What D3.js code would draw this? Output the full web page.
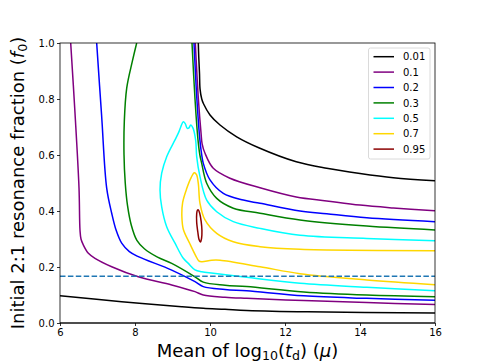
<!DOCTYPE html>
<html lang="en">
<head>
<meta charset="utf-8">
<title>Resonance fraction contours</title>
<script src="https://cdn.jsdelivr.net/npm/d3@7"></script>
<style>
  body { margin: 0; background: #fff; }
  text { font-family: "DejaVu Sans", sans-serif; }
</style>
</head>
<body>
<script>
// contour levels and their colours
var levels = ["0.01", "0.1", "0.2", "0.3", "0.5", "0.7", "0.95"];
var colors = ["black", "purple", "blue", "green", "cyan", "gold", "darkred"];

var xTicks = [6, 8, 10, 12, 14, 16];
var yTicks = [0, 0.2, 0.4, 0.6, 0.8, 1.0];
var resonanceLine = 1 / 6;

// traced contour paths, [mean log10(td), f0]
var c001Upper = [[9.688,1.0],[9.70,0.95],[9.72,0.892],[9.735,0.835],[9.78,0.80],[9.83,0.782],[10.0,0.743],[10.267,0.707],[10.712,0.665],[11.3,0.626],[12.3,0.576],[13.112,0.5525],[14.0,0.534],[14.888,0.519],[16,0.508]];
var c001Lower = [[6,0.0975],[7.645,0.076],[9.245,0.058],[9.821,0.0525],[10.4,0.049],[10.979,0.045],[12.6,0.040],[16,0.036]];

var c01Upper = [[9.608,1.0],[9.69,0.8],[9.76,0.68],[9.79,0.64],[9.867,0.606],[10.088,0.5525],[10.533,0.517],[11.333,0.483],[12.3,0.45],[13.112,0.436],[14.0,0.421],[14.888,0.411],[16,0.401]];
var c01Left = [[6.285,1.0],[6.40,0.75],[6.507,0.482],[6.533,0.332],[6.56,0.30],[6.621,0.279],[6.75,0.25],[6.933,0.231],[7.379,0.201],[8.088,0.165],[8.979,0.136],[9.6,0.112],[9.821,0.100],[10.4,0.092],[10.979,0.088],[12.5,0.080],[14.18,0.073],[16,0.066]];

var c02Upper = [[9.573,1.0],[9.65,0.80],[9.73,0.654],[9.78,0.60],[9.821,0.570],[10.0,0.511],[10.355,0.463],[10.888,0.439],[11.333,0.4275],[12.4,0.400],[13.112,0.39],[14.18,0.376],[16,0.362]];
var c02Left = [[6.978,1.0],[7.11,0.74],[7.245,0.482],[7.379,0.392],[7.50,0.33],[7.645,0.285],[7.85,0.255],[8.088,0.237],[8.979,0.189],[9.6,0.1475],[9.821,0.130],[10.4,0.120],[10.979,0.115],[12.5,0.097],[14.18,0.088],[16,0.081]];

var c03Upper = [[9.52,1.0],[9.60,0.80],[9.68,0.654],[9.73,0.60],[9.779,0.570],[9.912,0.499],[10.179,0.445],[10.621,0.410],[11.333,0.392],[12.4,0.368],[14.18,0.346],[16,0.332]];
var c03Left = [[8.045,1.0],[7.93,0.935],[7.779,0.839],[7.715,0.72],[7.707,0.601],[7.74,0.50],[7.80,0.42],[7.90,0.35],[8.05,0.295],[8.25,0.265],[8.6,0.235],[8.979,0.213],[9.6,0.165],[9.82,0.146],[10.4,0.135],[10.98,0.13],[12.5,0.111],[14.18,0.100],[16,0.094]];

var c05 = [[16,0.294],[14.18,0.302],[12.4,0.313],[11.333,0.338],[10.621,0.362],[10.179,0.3975],[9.912,0.439],[9.733,0.5225],[9.645,0.594],[9.62,0.65],[9.55,0.695],[9.485,0.707],[9.44,0.697],[9.395,0.695],[9.34,0.712],[9.288,0.719],[9.22,0.70],[9.155,0.678],[9.067,0.654],[8.845,0.594],[8.712,0.535],[8.667,0.475],[8.712,0.415],[8.845,0.344],[9.067,0.285],[9.288,0.231],[9.421,0.213],[9.6,0.19],[9.779,0.183],[10.088,0.1775],[10.979,0.163],[12.4,0.142],[14.18,0.1275],[16,0.115]];

var c07 = [[16,0.258],[12.4,0.263],[11.333,0.2725],[10.621,0.290],[10.179,0.320],[9.867,0.368],[9.733,0.4275],[9.688,0.499],[9.64,0.53],[9.581,0.537],[9.50,0.52],[9.379,0.48],[9.27,0.43],[9.25,0.38],[9.288,0.335],[9.467,0.282],[9.62,0.24],[9.70,0.222],[9.779,0.219],[10.045,0.224],[10.267,0.224],[11.333,0.201],[12.4,0.176],[14.18,0.154],[16,0.137]];

var c095 = [[9.688,0.404],[9.725,0.392],[9.765,0.362],[9.785,0.33],[9.775,0.302],[9.745,0.289],[9.71,0.297],[9.675,0.325],[9.645,0.36],[9.645,0.39],[9.665,0.403]];

var contours = [
  { level: 0, pts: c001Upper }, { level: 0, pts: c001Lower },
  { level: 1, pts: c01Upper }, { level: 1, pts: c01Left },
  { level: 2, pts: c02Upper }, { level: 2, pts: c02Left },
  { level: 3, pts: c03Upper }, { level: 3, pts: c03Left },
  { level: 4, pts: c05 },
  { level: 5, pts: c07 },
  { level: 6, pts: c095, closed: true }
];

var width = 484, height = 363;
var margin = { left: 60, right: 49, top: 43, bottom: 40 };
var iw = width - margin.left - margin.right;
var ih = height - margin.top - margin.bottom;

var svg = d3.select("body").append("svg")
            .attr("width", width)
            .attr("height", height);

var x = d3.scaleLinear().domain([6, 16]).range([0, iw]);
var y = d3.scaleLinear().domain([0, 1]).range([ih, 0]);

svg.append("defs").append("clipPath").attr("id", "clip")
   .append("rect").attr("width", iw).attr("height", ih);

var g = svg.append("g").attr("transform", "translate(" + margin.left + "," + margin.top + ")");
var plot = g.append("g").attr("clip-path", "url(#clip)");

var line = d3.line()
             .x(function(d){ return x(d[0]); })
             .y(function(d){ return y(d[1]); })
             .curve(d3.curveCatmullRom.alpha(0.5));
var loop = d3.line()
             .x(function(d){ return x(d[0]); })
             .y(function(d){ return y(d[1]); })
             .curve(d3.curveCatmullRomClosed.alpha(0.5));

plot.selectAll("path.contour")
    .data(contours)
    .enter().append("path")
    .attr("class", "contour")
    .attr("fill", "none")
    .attr("stroke", function(d){ return colors[d.level]; })
    .attr("stroke-width", 1.5)
    .attr("d", function(d){ return d.closed ? loop(d.pts) : line(d.pts); });

// f0 = 1/6 reference
plot.append("line")
    .attr("x1", 0).attr("x2", iw)
    .attr("y1", y(resonanceLine)).attr("y2", y(resonanceLine))
    .attr("stroke", "#1f77b4").attr("stroke-width", 1.5)
    .attr("stroke-dasharray", "5.5,2.4");

// gray line along f0 = 0
g.append("line")
 .attr("x1", 0).attr("x2", iw)
 .attr("y1", y(0)).attr("y2", y(0))
 .attr("stroke", "#808080").attr("stroke-width", 2);

// axes
var xAxis = g.append("g").attr("transform", "translate(0," + ih + ")")
             .call(d3.axisBottom(x).tickValues(xTicks).tickSize(3).tickPadding(2.5).tickFormat(d3.format("d")));
var yAxis = g.append("g")
             .call(d3.axisLeft(y).tickValues(yTicks).tickSize(3).tickPadding(2.5).tickFormat(d3.format(".1f")));
[xAxis, yAxis].forEach(function(a){
  a.select(".domain").remove();
  a.selectAll("line").attr("stroke", "black").attr("stroke-width", 0.8);
  a.selectAll("text").attr("font-size", 10).attr("fill", "black")
   .style("font-family", "'DejaVu Sans', sans-serif");
});

g.append("rect")
 .attr("width", iw).attr("height", ih)
 .attr("fill", "none").attr("stroke", "black").attr("stroke-width", 0.8);

// legend
var leg = g.append("g").attr("transform", "translate(" + (iw - 66.5) + ",5)");
leg.append("rect")
   .attr("width", 61.5).attr("height", 111).attr("rx", 2)
   .attr("fill", "white").attr("fill-opacity", 0.8)
   .attr("stroke", "#d0d0d0").attr("stroke-width", 0.8);
var items = leg.selectAll("g.item").data(levels).enter().append("g")
               .attr("class", "item")
               .attr("transform", function(d, i){ return "translate(0," + (8.7 + i * 15.4) + ")"; });
items.append("line")
     .attr("x1", 5).attr("x2", 25.5)
     .attr("stroke", function(d, i){ return colors[i]; })
     .attr("stroke-width", 1.5);
items.append("text")
     .attr("x", 34.5).attr("y", 3.6)
     .attr("font-size", 10)
     .text(function(d){ return d; });

// axis labels
var xl = svg.append("text")
            .attr("x", margin.left + iw / 2).attr("y", 357)
            .attr("text-anchor", "middle").attr("font-size", 18);
xl.append("tspan").text("Mean of log");
xl.append("tspan").attr("font-size", 12.6).attr("dy", 3.2).text("10");
xl.append("tspan").attr("dy", -3.2).text("(");
xl.append("tspan").attr("font-style", "italic").text("t");
xl.append("tspan").attr("font-size", 12.6).attr("dy", 3.2).text("d");
xl.append("tspan").attr("dy", -3.2).text(") (");
xl.append("tspan").attr("font-style", "italic").text("μ");
xl.append("tspan").text(")");

var yl = svg.append("text")
            .attr("transform", "translate(24," + (margin.top + ih / 2) + ") rotate(-90)")
            .attr("text-anchor", "middle").attr("font-size", 18);
yl.append("tspan").text("Initial 2:1 resonance fraction (");
yl.append("tspan").attr("font-style", "italic").text("f");
yl.append("tspan").attr("font-size", 12.6).attr("dy", 3.2).text("0");
yl.append("tspan").attr("dy", -3.2).text(")");

</script>
</body>
</html>
